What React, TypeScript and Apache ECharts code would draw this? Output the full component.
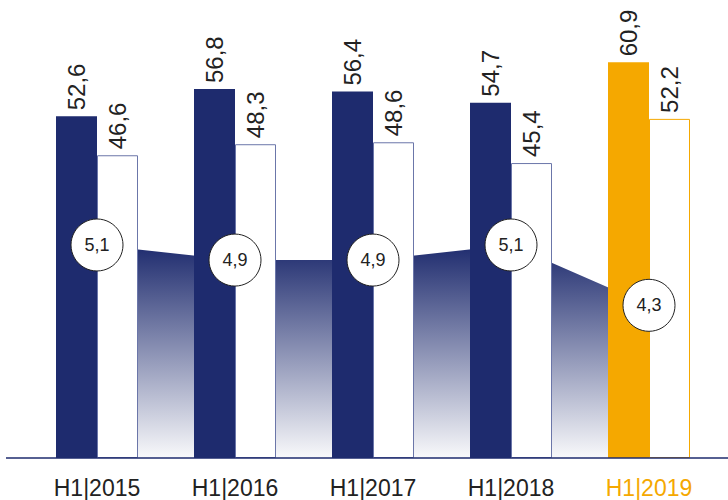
import React, { useEffect, useRef } from "react";
import * as echarts from "echarts";

const categories = ["H1|2015", "H1|2016", "H1|2017", "H1|2018", "H1|2019"];
const solidValues = [52.6, 56.8, 56.4, 54.7, 60.9];
const outlineValues = [46.6, 48.3, 48.6, 45.4, 52.2];
const ratioValues = [5.1, 4.9, 4.9, 5.1, 4.3];
const highlightIndex = 4;

const NAVY = "#1e2b6e";
const ORANGE = "#f5a800";
const OUTLINE = "#6b76a9";
const TEXT = "#222222";
const FONT = "'Liberation Sans', Arial, sans-serif";

const fmt = (v: number) => v.toFixed(1).replace(".", ",");

export default function App() {
  const ref = useRef<HTMLDivElement>(null);
  useEffect(() => {
    if (!ref.current) return;
    const chart = echarts.init(ref.current, null, { renderer: "svg" });
    const barLabel = {
      show: true,
      position: "top",
      rotate: 90,
      align: "left",
      verticalAlign: "middle",
      distance: 6,
      fontSize: 24,
      fontFamily: FONT,
      color: TEXT,
      formatter: (p: any) => fmt(p.value),
    };
    chart.setOption({
      animation: false,
      backgroundColor: "#ffffff",
      grid: { left: 28, right: 10, top: 0, bottom: 42, containLabel: false },
      xAxis: {
        type: "category",
        data: categories,
        axisLine: { show: false },
        axisTick: { show: false },
        axisLabel: {
          margin: 18,
          fontSize: 23,
          fontFamily: FONT,
          color: (_v: any, idx: number) => (idx === highlightIndex ? ORANGE : TEXT),
        },
      },
      yAxis: [
        { type: "value", min: 0, max: 70.5, show: false },
        { type: "value", min: 2.275, max: 8.349, show: false },
      ],
      series: [
        {
          type: "line",
          yAxisIndex: 1,
          data: ratioValues,
          z: 1,
          showSymbol: false,
          symbol: "none",
          lineStyle: { width: 0 },
          areaStyle: {
            origin: "start",
            opacity: 1,
            color: new echarts.graphic.LinearGradient(0, 0, 0, 1, [
              { offset: 0, color: "rgba(30,43,110,1)" },
              { offset: 1, color: "rgba(30,43,110,0.03)" },
            ]),
          },
          silent: true,
        },
        {
          type: "bar",
          yAxisIndex: 0,
          z: 2,
          barWidth: 41,
          barGap: "0%",
          data: solidValues.map((v, i) => ({
            value: v,
            itemStyle: { color: i === highlightIndex ? ORANGE : NAVY },
          })),
          label: barLabel,
        },
        {
          type: "bar",
          yAxisIndex: 0,
          z: 2,
          barWidth: 41,
          barGap: "0%",
          data: outlineValues.map((v, i) => ({
            value: v,
            itemStyle: {
              color: "#ffffff",
              borderColor: i === highlightIndex ? ORANGE : OUTLINE,
              borderWidth: 1,
            },
          })),
          label: barLabel,
        },
        {
          type: "line",
          yAxisIndex: 1,
          data: ratioValues,
          z: 5,
          symbol: "circle",
          symbolSize: 52,
          lineStyle: { opacity: 0, width: 0 },
          itemStyle: { color: "#ffffff", borderColor: "#222222", borderWidth: 1 },
          label: {
            show: true,
            position: "inside",
            fontSize: 18,
            fontFamily: FONT,
            color: TEXT,
            formatter: (p: any) => fmt(p.value),
          },
        },
      ],
      graphic: [
        {
          type: "line",
          z: 10,
          shape: { x1: 6, y1: 458, x2: 728, y2: 458 },
          style: { stroke: NAVY, lineWidth: 1.5 },
        },
      ],
    });
    return () => chart.dispose();
  }, []);
  return (
    <div
      ref={ref}
      style={{ position: "fixed", left: 0, top: 0, width: 728, height: 500 }}
    />
  );
}
